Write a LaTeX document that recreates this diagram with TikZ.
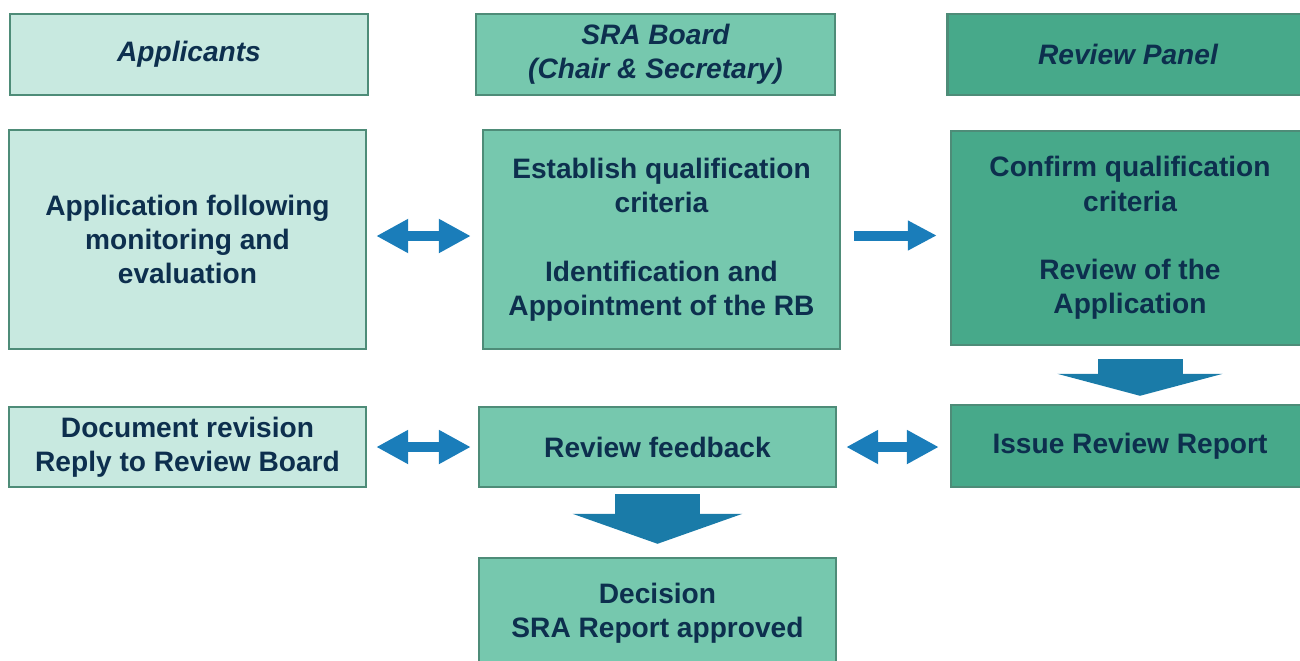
\documentclass[tikz,border=0pt]{standalone}
\usepackage{fontspec}
\setmainfont{Liberation Sans}
\usetikzlibrary{arrows.meta}

\definecolor{paleg}{HTML}{C8E9E0}
\definecolor{midg}{HTML}{76C8AE}
\definecolor{darkg}{HTML}{47A98A}
\definecolor{edgeg}{HTML}{4E8C78}
\definecolor{ink}{HTML}{0D2F4E}
\definecolor{arrowblue}{HTML}{1A7DBA}
\definecolor{blockblue}{HTML}{1A7BA8}

\tikzset{
    box/.style={rectangle, draw=edgeg, line width=1.4pt, align=center, text=ink,
        font=\fontsize{16}{19.5}\selectfont\bfseries, inner sep=0pt},
    hdr/.style={box, minimum height=1.62cm, font=\fontsize{16}{19.5}\selectfont\bfseries\itshape},
    twoway/.style={draw=arrowblue, line width=0.2cm,
        {Triangle[length=0.64cm, width=0.64cm]}-{Triangle[length=0.64cm, width=0.64cm]}},
    oneway/.style={draw=arrowblue, line width=0.2cm, -{Triangle[length=0.58cm, width=0.56cm]}},
    bigdown/.style={draw=blockblue, line width=1.7cm}
}

\begin{document}
\begin{tikzpicture}[x=0.02cm, y=-0.02cm]
        \useasboundingbox (0,0) rectangle (1300,660);

        \node[hdr, fill=paleg, minimum width=7.16cm] (applicants) at (189, 54.5) {Applicants};
        \node[hdr, fill=midg, minimum width=7.18cm] (board) at (655.5, 54.5) {SRA Board\\(Chair \& Secretary)};
        \node[hdr, fill=darkg, minimum width=7.22cm] (panel) at (1128, 54.5) {Review Panel};

        \node[box, fill=paleg, minimum width=7.14cm, minimum height=4.38cm] (application) at (187.5, 239.5)
            {Application following\\monitoring and\\evaluation};
        \node[box, fill=midg, minimum width=7.14cm, minimum height=4.38cm] (establish) at (661.5, 239.5)
            {Establish qualification\\criteria\\[19.5pt]Identification and\\Appointment of the RB};
        \node[box, fill=darkg, minimum width=7.16cm, minimum height=4.28cm] (confirm) at (1130, 238)
            {Confirm qualification\\criteria\\[19.5pt]Review of the\\Application};

        \node[box, fill=paleg, minimum width=7.14cm, minimum height=1.6cm] (revision) at (187.5, 447)
            {Document revision\\Reply to Review Board};
        \node[box, fill=midg, minimum width=7.14cm, minimum height=1.6cm] (feedback) at (657.5, 447)
            {Review feedback};
        \node[box, fill=darkg, minimum width=7.16cm, minimum height=1.64cm] (issue) at (1130, 446)
            {Issue Review Report};

        \node[box, fill=midg, minimum width=7.14cm, minimum height=2.2cm] (decision) at (657.5, 613)
            {Decision\\SRA Report approved};

        \draw[twoway, shorten <=0.18cm, shorten >=0.22cm]
            ([yshift=0.07cm]application.east) -- ([yshift=0.07cm]application.east -| establish.west);
        \draw[oneway, shorten <=0.26cm, shorten >=0.26cm]
            ([yshift=0.08cm]establish.east) -- ([yshift=0.08cm]establish.east -| confirm.west);
        \draw[twoway, shorten <=0.18cm, shorten >=0.14cm] (revision.east) -- (feedback.west);
        \draw[twoway, shorten <=0.18cm, shorten >=0.22cm] (feedback.east) -- (feedback.east -| issue.west);

        \draw[bigdown, -{Triangle[length=0.44cm, width=3.3cm]}, shorten <=0.26cm, shorten >=0.16cm]
            ([xshift=0.2cm]confirm.south) -- ([xshift=0.2cm]issue.north);
        \draw[bigdown, -{Triangle[length=0.6cm, width=3.38cm]}, shorten <=0.12cm, shorten >=0.26cm]
            (feedback.south) -- (decision.north);
    \end{tikzpicture}
\end{document}
